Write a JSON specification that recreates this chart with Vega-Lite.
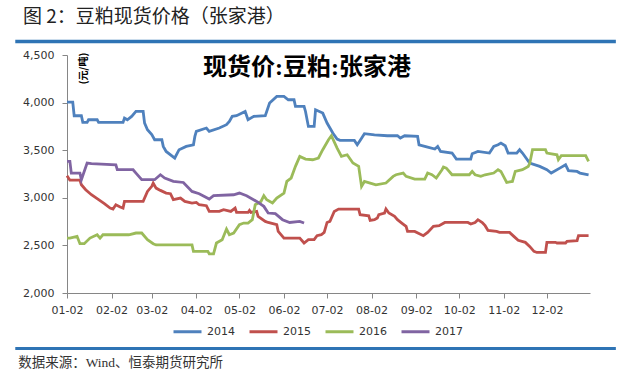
{
  "$schema": "https://vega.github.io/schema/vega-lite/v6.json",
  "width": 523,
  "height": 238,
  "autosize": {"type": "none"},
  "padding": {"left": 67, "top": 55, "right": 44, "bottom": 86},
  "background": "white",
  "title": {"text": "图 2：豆粕现货价格（张家港）", "anchor": "start", "frame": "group", "offset": 13, "dx": -44, "font": "Noto Sans CJK SC", "fontSize": 19, "fontWeight": "normal", "color": "#222222"},
  "layer": [
    {
      "data": {
        "format": {"parse": {"md": "date:'%m-%d'"}},
        "values": [
{"year":"2014","md":"01-02","price":4006},{"year":"2014","md":"01-06","price":4006},{"year":"2014","md":"01-07","price":3862},{"year":"2014","md":"01-12","price":3862},{"year":"2014","md":"01-13","price":3792},{"year":"2014","md":"01-16","price":3792},{"year":"2014","md":"01-17","price":3820},{"year":"2014","md":"01-23","price":3820},{"year":"2014","md":"01-24","price":3792},{"year":"2014","md":"02-10","price":3792},{"year":"2014","md":"02-11","price":3838},{"year":"2014","md":"02-13","price":3820},{"year":"2014","md":"02-16","price":3855},{"year":"2014","md":"02-19","price":3907},{"year":"2014","md":"02-24","price":3907},{"year":"2014","md":"02-25","price":3785},{"year":"2014","md":"02-27","price":3715},{"year":"2014","md":"03-02","price":3663},{"year":"2014","md":"03-04","price":3610},{"year":"2014","md":"03-09","price":3610},{"year":"2014","md":"03-10","price":3540},{"year":"2014","md":"03-12","price":3487},{"year":"2014","md":"03-18","price":3418},{"year":"2014","md":"03-21","price":3505},{"year":"2014","md":"03-26","price":3540},{"year":"2014","md":"03-31","price":3557},{"year":"2014","md":"04-01","price":3645},{"year":"2014","md":"04-02","price":3697},{"year":"2014","md":"04-09","price":3733},{"year":"2014","md":"04-11","price":3697},{"year":"2014","md":"04-18","price":3733},{"year":"2014","md":"04-23","price":3768},{"year":"2014","md":"04-25","price":3803},{"year":"2014","md":"04-27","price":3855},{"year":"2014","md":"04-30","price":3862},{"year":"2014","md":"05-06","price":3907},{"year":"2014","md":"05-08","price":3820},{"year":"2014","md":"05-12","price":3855},{"year":"2014","md":"05-20","price":3862},{"year":"2014","md":"05-23","price":3996},{"year":"2014","md":"05-28","price":4065},{"year":"2014","md":"06-02","price":4065},{"year":"2014","md":"06-05","price":4030},{"year":"2014","md":"06-09","price":4030},{"year":"2014","md":"06-10","price":3960},{"year":"2014","md":"06-16","price":3960},{"year":"2014","md":"06-17","price":3907},{"year":"2014","md":"06-19","price":3750},{"year":"2014","md":"06-23","price":3750},{"year":"2014","md":"06-24","price":3925},{"year":"2014","md":"06-29","price":3890},{"year":"2014","md":"07-02","price":3785},{"year":"2014","md":"07-06","price":3680},{"year":"2014","md":"07-09","price":3617},{"year":"2014","md":"07-11","price":3603},{"year":"2014","md":"07-21","price":3603},{"year":"2014","md":"07-23","price":3557},{"year":"2014","md":"07-25","price":3603},{"year":"2014","md":"07-28","price":3673},{"year":"2014","md":"08-04","price":3662},{"year":"2014","md":"08-13","price":3652},{"year":"2014","md":"08-20","price":3652},{"year":"2014","md":"08-22","price":3628},{"year":"2014","md":"08-25","price":3652},{"year":"2014","md":"09-03","price":3645},{"year":"2014","md":"09-04","price":3557},{"year":"2014","md":"09-10","price":3533},{"year":"2014","md":"09-15","price":3512},{"year":"2014","md":"09-17","price":3540},{"year":"2014","md":"09-19","price":3487},{"year":"2014","md":"09-27","price":3470},{"year":"2014","md":"09-30","price":3407},{"year":"2014","md":"10-10","price":3407},{"year":"2014","md":"10-11","price":3463},{"year":"2014","md":"10-15","price":3487},{"year":"2014","md":"10-23","price":3470},{"year":"2014","md":"10-26","price":3540},{"year":"2014","md":"10-29","price":3557},{"year":"2014","md":"10-31","price":3575},{"year":"2014","md":"11-03","price":3547},{"year":"2014","md":"11-05","price":3470},{"year":"2014","md":"11-11","price":3470},{"year":"2014","md":"11-13","price":3505},{"year":"2014","md":"11-15","price":3470},{"year":"2014","md":"11-20","price":3365},{"year":"2014","md":"11-27","price":3330},{"year":"2014","md":"12-02","price":3295},{"year":"2014","md":"12-05","price":3260},{"year":"2014","md":"12-11","price":3312},{"year":"2014","md":"12-15","price":3347},{"year":"2014","md":"12-17","price":3285},{"year":"2014","md":"12-23","price":3277},{"year":"2014","md":"12-25","price":3260},{"year":"2014","md":"12-31","price":3242},
{"year":"2015","md":"01-02","price":3232},{"year":"2015","md":"01-04","price":3185},{"year":"2015","md":"01-11","price":3185},{"year":"2015","md":"01-12","price":3137},{"year":"2015","md":"01-15","price":3085},{"year":"2015","md":"01-19","price":3032},{"year":"2015","md":"01-24","price":2980},{"year":"2015","md":"01-28","price":2938},{"year":"2015","md":"02-01","price":2892},{"year":"2015","md":"02-03","price":2882},{"year":"2015","md":"02-05","price":2927},{"year":"2015","md":"02-08","price":2903},{"year":"2015","md":"02-10","price":2892},{"year":"2015","md":"02-11","price":2962},{"year":"2015","md":"02-24","price":2962},{"year":"2015","md":"02-27","price":3067},{"year":"2015","md":"03-02","price":3120},{"year":"2015","md":"03-03","price":3155},{"year":"2015","md":"03-05","price":3102},{"year":"2015","md":"03-08","price":3078},{"year":"2015","md":"03-12","price":3050},{"year":"2015","md":"03-15","price":3043},{"year":"2015","md":"03-17","price":2980},{"year":"2015","md":"03-22","price":2997},{"year":"2015","md":"03-25","price":2962},{"year":"2015","md":"03-30","price":2945},{"year":"2015","md":"04-02","price":2952},{"year":"2015","md":"04-04","price":2927},{"year":"2015","md":"04-09","price":2917},{"year":"2015","md":"04-11","price":2857},{"year":"2015","md":"04-18","price":2857},{"year":"2015","md":"04-21","price":2875},{"year":"2015","md":"04-26","price":2857},{"year":"2015","md":"04-29","price":2892},{"year":"2015","md":"04-30","price":2846},{"year":"2015","md":"05-08","price":2846},{"year":"2015","md":"05-09","price":2868},{"year":"2015","md":"05-10","price":2846},{"year":"2015","md":"05-14","price":2857},{"year":"2015","md":"05-15","price":2805},{"year":"2015","md":"05-20","price":2752},{"year":"2015","md":"05-22","price":2741},{"year":"2015","md":"05-28","price":2717},{"year":"2015","md":"05-29","price":2647},{"year":"2015","md":"06-02","price":2577},{"year":"2015","md":"06-13","price":2577},{"year":"2015","md":"06-16","price":2525},{"year":"2015","md":"06-19","price":2560},{"year":"2015","md":"06-23","price":2560},{"year":"2015","md":"06-25","price":2602},{"year":"2015","md":"06-28","price":2612},{"year":"2015","md":"06-30","price":2637},{"year":"2015","md":"07-02","price":2741},{"year":"2015","md":"07-04","price":2752},{"year":"2015","md":"07-07","price":2857},{"year":"2015","md":"07-10","price":2882},{"year":"2015","md":"07-24","price":2882},{"year":"2015","md":"07-25","price":2822},{"year":"2015","md":"07-31","price":2811},{"year":"2015","md":"08-01","price":2763},{"year":"2015","md":"08-04","price":2770},{"year":"2015","md":"08-06","price":2788},{"year":"2015","md":"08-07","price":2822},{"year":"2015","md":"08-11","price":2840},{"year":"2015","md":"08-12","price":2882},{"year":"2015","md":"08-14","price":2840},{"year":"2015","md":"08-18","price":2805},{"year":"2015","md":"08-20","price":2770},{"year":"2015","md":"08-23","price":2735},{"year":"2015","md":"08-26","price":2700},{"year":"2015","md":"08-27","price":2647},{"year":"2015","md":"09-01","price":2647},{"year":"2015","md":"09-07","price":2602},{"year":"2015","md":"09-10","price":2637},{"year":"2015","md":"09-14","price":2700},{"year":"2015","md":"09-18","price":2707},{"year":"2015","md":"09-22","price":2741},{"year":"2015","md":"10-08","price":2741},{"year":"2015","md":"10-10","price":2725},{"year":"2015","md":"10-13","price":2741},{"year":"2015","md":"10-15","price":2770},{"year":"2015","md":"10-18","price":2741},{"year":"2015","md":"10-20","price":2707},{"year":"2015","md":"10-22","price":2657},{"year":"2015","md":"10-28","price":2647},{"year":"2015","md":"10-30","price":2637},{"year":"2015","md":"11-06","price":2637},{"year":"2015","md":"11-09","price":2595},{"year":"2015","md":"11-12","price":2553},{"year":"2015","md":"11-17","price":2532},{"year":"2015","md":"11-20","price":2490},{"year":"2015","md":"11-23","price":2437},{"year":"2015","md":"11-25","price":2426},{"year":"2015","md":"12-01","price":2426},{"year":"2015","md":"12-02","price":2532},{"year":"2015","md":"12-08","price":2532},{"year":"2015","md":"12-09","price":2525},{"year":"2015","md":"12-15","price":2525},{"year":"2015","md":"12-16","price":2542},{"year":"2015","md":"12-23","price":2549},{"year":"2015","md":"12-24","price":2602},{"year":"2015","md":"12-31","price":2602},
{"year":"2016","md":"01-02","price":2577},{"year":"2016","md":"01-04","price":2577},{"year":"2016","md":"01-09","price":2595},{"year":"2016","md":"01-11","price":2518},{"year":"2016","md":"01-14","price":2518},{"year":"2016","md":"01-18","price":2577},{"year":"2016","md":"01-23","price":2612},{"year":"2016","md":"01-25","price":2577},{"year":"2016","md":"01-27","price":2612},{"year":"2016","md":"02-14","price":2612},{"year":"2016","md":"02-19","price":2630},{"year":"2016","md":"02-23","price":2630},{"year":"2016","md":"02-27","price":2560},{"year":"2016","md":"03-03","price":2518},{"year":"2016","md":"03-05","price":2505},{"year":"2016","md":"03-30","price":2505},{"year":"2016","md":"03-31","price":2437},{"year":"2016","md":"04-10","price":2437},{"year":"2016","md":"04-11","price":2412},{"year":"2016","md":"04-14","price":2412},{"year":"2016","md":"04-16","price":2525},{"year":"2016","md":"04-20","price":2560},{"year":"2016","md":"04-23","price":2672},{"year":"2016","md":"04-25","price":2612},{"year":"2016","md":"04-28","price":2630},{"year":"2016","md":"05-02","price":2717},{"year":"2016","md":"05-05","price":2735},{"year":"2016","md":"05-08","price":2735},{"year":"2016","md":"05-11","price":2770},{"year":"2016","md":"05-13","price":2927},{"year":"2016","md":"05-17","price":2962},{"year":"2016","md":"05-19","price":3022},{"year":"2016","md":"05-21","price":2980},{"year":"2016","md":"05-25","price":2945},{"year":"2016","md":"05-28","price":2997},{"year":"2016","md":"06-02","price":3050},{"year":"2016","md":"06-04","price":3172},{"year":"2016","md":"06-07","price":3207},{"year":"2016","md":"06-10","price":3330},{"year":"2016","md":"06-13","price":3435},{"year":"2016","md":"06-17","price":3407},{"year":"2016","md":"06-22","price":3400},{"year":"2016","md":"06-26","price":3418},{"year":"2016","md":"06-29","price":3505},{"year":"2016","md":"07-03","price":3610},{"year":"2016","md":"07-05","price":3652},{"year":"2016","md":"07-09","price":3522},{"year":"2016","md":"07-12","price":3435},{"year":"2016","md":"07-16","price":3452},{"year":"2016","md":"07-20","price":3365},{"year":"2016","md":"07-24","price":3330},{"year":"2016","md":"07-26","price":3120},{"year":"2016","md":"07-28","price":3172},{"year":"2016","md":"08-01","price":3155},{"year":"2016","md":"08-05","price":3137},{"year":"2016","md":"08-12","price":3155},{"year":"2016","md":"08-17","price":3225},{"year":"2016","md":"08-19","price":3242},{"year":"2016","md":"08-24","price":3260},{"year":"2016","md":"08-26","price":3225},{"year":"2016","md":"09-01","price":3197},{"year":"2016","md":"09-08","price":3197},{"year":"2016","md":"09-10","price":3260},{"year":"2016","md":"09-13","price":3242},{"year":"2016","md":"09-16","price":3207},{"year":"2016","md":"09-20","price":3295},{"year":"2016","md":"09-21","price":3323},{"year":"2016","md":"09-23","price":3312},{"year":"2016","md":"09-27","price":3242},{"year":"2016","md":"10-09","price":3242},{"year":"2016","md":"10-11","price":3277},{"year":"2016","md":"10-13","price":3242},{"year":"2016","md":"10-17","price":3225},{"year":"2016","md":"10-20","price":3242},{"year":"2016","md":"10-26","price":3260},{"year":"2016","md":"10-29","price":3295},{"year":"2016","md":"10-31","price":3277},{"year":"2016","md":"11-03","price":3190},{"year":"2016","md":"11-04","price":3162},{"year":"2016","md":"11-08","price":3172},{"year":"2016","md":"11-10","price":3277},{"year":"2016","md":"11-15","price":3295},{"year":"2016","md":"11-19","price":3330},{"year":"2016","md":"11-20","price":3358},{"year":"2016","md":"11-22","price":3505},{"year":"2016","md":"12-01","price":3505},{"year":"2016","md":"12-02","price":3470},{"year":"2016","md":"12-09","price":3452},{"year":"2016","md":"12-10","price":3400},{"year":"2016","md":"12-12","price":3442},{"year":"2016","md":"12-29","price":3442},{"year":"2016","md":"12-31","price":3382},
{"year":"2017","md":"01-02","price":3382},{"year":"2017","md":"01-04","price":3382},{"year":"2017","md":"01-05","price":3260},{"year":"2017","md":"01-11","price":3260},{"year":"2017","md":"01-12","price":3190},{"year":"2017","md":"01-16","price":3365},{"year":"2017","md":"01-19","price":3358},{"year":"2017","md":"02-05","price":3347},{"year":"2017","md":"02-06","price":3295},{"year":"2017","md":"02-17","price":3295},{"year":"2017","md":"02-19","price":3260},{"year":"2017","md":"02-23","price":3190},{"year":"2017","md":"03-04","price":3190},{"year":"2017","md":"03-08","price":3242},{"year":"2017","md":"03-11","price":3207},{"year":"2017","md":"03-17","price":3172},{"year":"2017","md":"03-24","price":3161},{"year":"2017","md":"03-30","price":3067},{"year":"2017","md":"04-04","price":3043},{"year":"2017","md":"04-11","price":2987},{"year":"2017","md":"04-14","price":3022},{"year":"2017","md":"04-28","price":3032},{"year":"2017","md":"05-02","price":3050},{"year":"2017","md":"05-07","price":3022},{"year":"2017","md":"05-14","price":2962},{"year":"2017","md":"05-19","price":2910},{"year":"2017","md":"05-22","price":2840},{"year":"2017","md":"05-27","price":2833},{"year":"2017","md":"06-01","price":2770},{"year":"2017","md":"06-06","price":2741},{"year":"2017","md":"06-13","price":2752},{"year":"2017","md":"06-16","price":2735}
        ]
      },
      "mark": {"type": "line", "strokeWidth": 2.8, "interpolate": "linear"},
      "encoding": {
        "x": {
          "field": "md", "type": "temporal",
          "scale": {"domain": [{"year": 1900, "month": 1, "date": 2}, {"year": 1901, "month": 1, "date": 1}], "nice": false},
          "axis": {
            "title": null, "grid": false, "format": "%m-%d", "labelAngle": 0, "labelOverlap": false, "labelFlush": false, "labelAlign": "center",
            "values": [{"year":1900,"month":1,"date":2},{"year":1900,"month":2,"date":2},{"year":1900,"month":3,"date":2},{"year":1900,"month":4,"date":2},{"year":1900,"month":5,"date":2},{"year":1900,"month":6,"date":2},{"year":1900,"month":7,"date":2},{"year":1900,"month":8,"date":2},{"year":1900,"month":9,"date":2},{"year":1900,"month":10,"date":2},{"year":1900,"month":11,"date":2},{"year":1900,"month":12,"date":2}],
            "labelFont": "DejaVu Sans", "labelFontSize": 11, "labelColor": "#333333", "labelPadding": 6,
            "domainColor": "#868686", "tickColor": "#868686", "tickSize": 5
          }
        },
        "y": {
          "field": "price", "type": "quantitative",
          "scale": {"domain": [2000, 4500], "nice": false, "zero": false},
          "axis": {
            "values": [2000, 2500, 3000, 3500, 4000, 4500], "format": ",.0f", "grid": false,
            "labelFont": "DejaVu Sans", "labelFontSize": 11, "labelColor": "#333333", "labelPadding": 8,
            "domainColor": "#868686", "tickColor": "#868686", "tickSize": 5,
            "title": "(元/吨)", "titleFont": "Noto Sans CJK SC", "titleFontSize": 10, "titleFontWeight": "bold", "titleColor": "#000000",
            "titleAngle": 270, "titleX": 16, "titleY": 13, "titleAlign": "center", "titleBaseline": "middle"
          }
        },
        "color": {
          "field": "year", "type": "nominal",
          "scale": {"domain": ["2014", "2015", "2016", "2017"], "range": ["#4F81BD", "#C0504D", "#9BBB59", "#8064A2"]},
          "legend": {
            "title": null, "orient": "none", "legendX": 105, "legendY": 261, "direction": "horizontal",
            "symbolType": "stroke", "symbolSize": 784, "symbolStrokeWidth": 3,
            "labelFont": "DejaVu Sans", "labelFontSize": 11, "labelColor": "#333333", "labelOffset": 4, "columnPadding": 8
          }
        }
      }
    },
    {
      "data": {"values": [{}]},
      "mark": {"type": "rule", "color": "#2F74B5", "strokeWidth": 3.5},
      "encoding": {
        "x": {"datum": {"year": 1899, "month": 11, "date": 27}, "type": "temporal", "scale": {"domain": [{"year": 1900, "month": 1, "date": 2}, {"year": 1901, "month": 1, "date": 1}], "nice": false}},
        "x2": {"datum": {"year": 1901, "month": 1, "date": 19}},
        "y": {"datum": 4643, "type": "quantitative", "scale": {"domain": [2000, 4500], "nice": false, "zero": false}}
      }
    },
    {
      "data": {"values": [{}]},
      "mark": {"type": "rule", "color": "#2F74B5", "strokeWidth": 3},
      "encoding": {
        "x": {"datum": {"year": 1899, "month": 11, "date": 27}, "type": "temporal", "scale": {"domain": [{"year": 1900, "month": 1, "date": 2}, {"year": 1901, "month": 1, "date": 1}], "nice": false}},
        "x2": {"datum": {"year": 1901, "month": 1, "date": 19}},
        "y": {"datum": 1418, "type": "quantitative", "scale": {"domain": [2000, 4500], "nice": false, "zero": false}}
      }
    },
    {
      "data": {"values": [{}]},
      "mark": {"type": "text", "text": "现货价:豆粕:张家港", "font": "Liberation Serif, Noto Sans CJK SC", "fontSize": 24, "fontWeight": "bold", "color": "#000000", "align": "center", "baseline": "middle"},
      "encoding": {
        "x": {"datum": {"year": 1900, "month": 6, "date": 18}, "type": "temporal", "scale": {"domain": [{"year": 1900, "month": 1, "date": 2}, {"year": 1901, "month": 1, "date": 1}], "nice": false}},
        "y": {"datum": 4366, "type": "quantitative", "scale": {"domain": [2000, 4500], "nice": false, "zero": false}}
      }
    },
    {
      "data": {"values": [{}]},
      "mark": {"type": "text", "text": "数据来源：Wind、恒泰期货研究所", "font": "Liberation Serif, Noto Sans CJK SC", "fontSize": 13.5, "color": "#333333", "align": "left", "baseline": "middle"},
      "encoding": {
        "x": {"datum": {"year": 1899, "month": 11, "date": 29}, "type": "temporal", "scale": {"domain": [{"year": 1900, "month": 1, "date": 2}, {"year": 1901, "month": 1, "date": 1}], "nice": false}},
        "y": {"datum": 1268, "type": "quantitative", "scale": {"domain": [2000, 4500], "nice": false, "zero": false}}
      }
    }
  ],
  "config": {"view": {"stroke": null}}
}
